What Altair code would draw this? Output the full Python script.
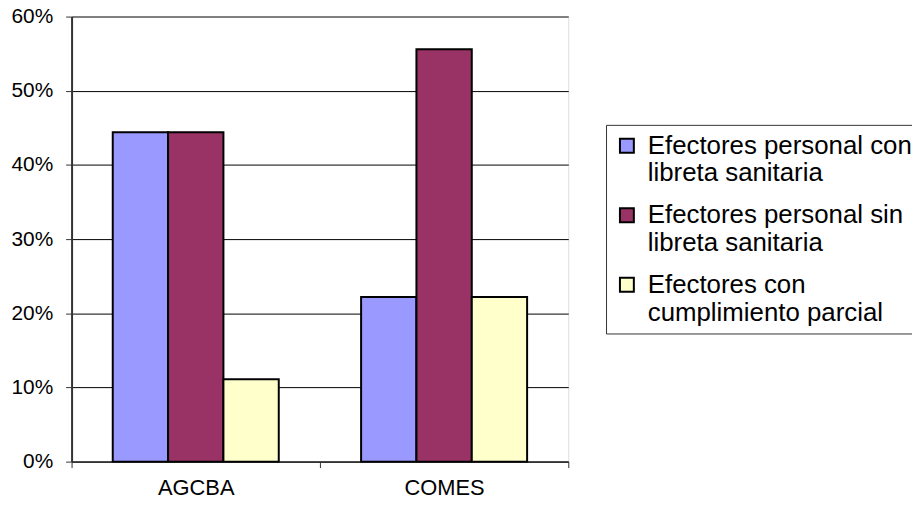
import altair as alt
import pandas as pd

categories = ["AGCBA", "COMES"]
series = [
    "Efectores personal con\nlibreta sanitaria",
    "Efectores personal sin\nlibreta sanitaria",
    "Efectores con\ncumplimiento parcial",
]
colors = ["#9999FF", "#993366", "#FFFFCC"]
values_agcba = [0.444, 0.444, 0.111]
values_comes = [0.222, 0.556, 0.222]

rows = []
for s, a, c in zip(series, values_agcba, values_comes):
    rows.append({"cat": "AGCBA", "serie": s, "val": a})
    rows.append({"cat": "COMES", "serie": s, "val": c})
df = pd.DataFrame(rows)

FONT = "Liberation Sans"

chart = alt.Chart(df).mark_bar(stroke="black", strokeWidth=2).encode(
    x=alt.X(
        "cat:N",
        sort=categories,
        scale=alt.Scale(paddingInner=0, paddingOuter=0),
        axis=alt.Axis(
            title=None,
            labelAngle=0,
            labelFontSize=22,
            labelFont=FONT,
            labelColor="black",
            tickBand="extent",
            tickSize=6,
            tickColor="#333333",
            domainColor="#333333",
            domainWidth=2,
            labelPadding=10,
            grid=False,
        ),
    ),
    xOffset=alt.XOffset(
        "serie:N",
        sort=series,
        scale=alt.Scale(paddingInner=0, paddingOuter=0.744),
    ),
    y=alt.Y(
        "val:Q",
        scale=alt.Scale(domain=[0, 0.6], nice=False),
        axis=alt.Axis(
            title=None,
            format=".0%",
            values=[0, 0.1, 0.2, 0.3, 0.4, 0.5, 0.6],
            labelFontSize=21,
            labelFont=FONT,
            labelColor="black",
            tickSize=6,
            tickColor="#333333",
            domainColor="#333333",
            domainWidth=2,
            labelPadding=13,
            grid=True,
            gridColor={"condition": {"test": "datum.value >= 0.59", "value": "#808080"}, "value": "black"},
            gridWidth={"condition": {"test": "datum.value >= 0.59", "value": 2}, "value": 1},
        ),
    ),
    color=alt.Color(
        "serie:N",
        sort=series,
        scale=alt.Scale(domain=series, range=colors),
        legend=alt.Legend(
            title=None,
            orient="none",
            legendX=538,
            legendY=109,
            strokeColor="#333333",
            padding=8,
            symbolType="square",
            symbolSize=196,
            symbolStrokeColor="black",
            symbolStrokeWidth=2,
            labelFontSize=26,
            labelFont=FONT,
            labelColor="black",
            labelLimit=0,
            labelOffset=8,
            rowPadding=16,
            labelExpr="split(datum.label, '\\n')",
        ),
    ),
).properties(
    width=500,
    height=448,
    padding={"left": 64, "top": 7, "right": 346, "bottom": 38},
    autosize=alt.AutoSizeParams(type="none"),
).configure_view(
    stroke="#808080", strokeWidth=2
).configure(background="white")

chart.save("out.html", embed_options={"renderer": "svg", "actions": False})
